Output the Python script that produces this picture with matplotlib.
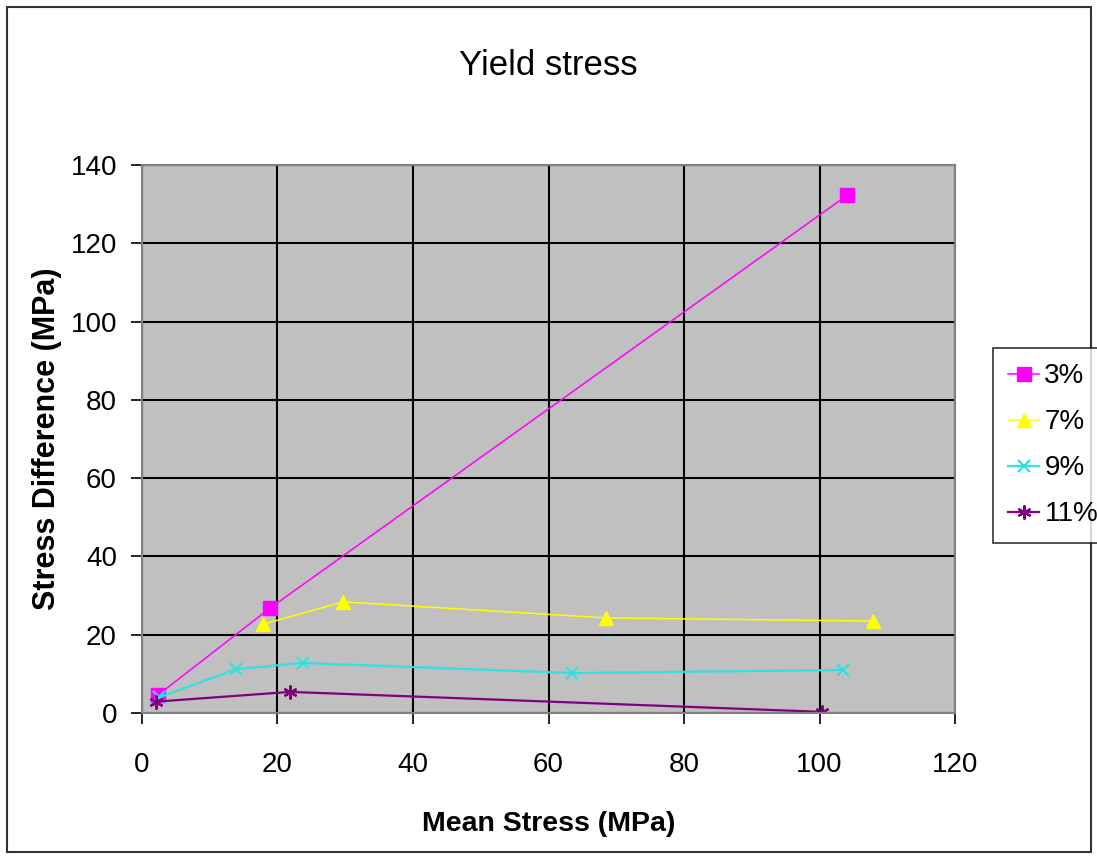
import matplotlib
matplotlib.use("Agg")
import matplotlib.pyplot as plt
from matplotlib.patches import Rectangle

plt.rcParams["font.family"] = ["Liberation Sans", "DejaVu Sans"]

# yield points: mean stress vs stress difference, one series per strain level
labels = ["3%", "7%", "9%", "11%"]

x_3 = [2.3, 18.9, 104.1]
y_3 = [4.5, 26.8, 132.3]

x_7 = [17.9, 29.7, 68.5, 107.9]
y_7 = [22.7, 28.4, 24.3, 23.5]

x_9 = [2.5, 13.9, 23.8, 63.5, 103.5]
y_9 = [4.0, 11.2, 12.8, 10.2, 11.0]

x_11 = [2.0, 21.9, 100.3]
y_11 = [2.9, 5.4, 0.3]

xticks = [0, 20, 40, 60, 80, 100, 120]
yticks = [0, 20, 40, 60, 80, 100, 120, 140]

fig = plt.figure(figsize=(10.97, 8.6), dpi=100)
ax = fig.add_axes([0.1294, 0.1709, 0.7412, 0.6372])
ax.set_facecolor("#C0C0C0")

ax.plot(x_3, y_3, color="#FF00FF", lw=1.1, marker="s", ms=9.5, label=labels[0])
ax.plot(x_7, y_7, color="#FFFF00", lw=1.1, marker="^", ms=10.5, label=labels[1])
ax.plot(x_9, y_9, color="#33E0E0", lw=1.6, marker="x", ms=8, mew=1.6, label=labels[2])
ax.plot(x_11, y_11, color="#800080", lw=1.6, marker=(6, 2, 0), ms=10, mew=1.6, label=labels[3])

ax.set_xlim(0, 120)
ax.set_ylim(0, 140)
ax.set_xticks(xticks)
ax.set_yticks(yticks)
ax.grid(True, color="black", lw=1.5)
ax.set_axisbelow(True)
ax.tick_params(direction="out", length=8, width=1.2, labelsize=20)
ax.tick_params(axis="x", pad=20)
ax.tick_params(axis="y", pad=10)
for s in ax.spines.values():
    s.set_color("#808080")
    s.set_linewidth(1.5)

ax.set_title("Yield stress", fontsize=25, y=1 + 90 / 548, pad=0)
ax.set_xlabel("Mean Stress (MPa)", fontsize=20.5, fontweight="bold")
ax.xaxis.set_label_coords(0.5, -0.178)
ax.set_ylabel("Stress Difference (MPa)", fontsize=22, fontweight="bold")
ax.yaxis.set_label_coords(-0.098, 0.5)

leg = fig.legend(loc="upper left", bbox_to_anchor=(993 / 1097, 1 - 348 / 860),
                 fontsize=20, frameon=True, fancybox=False, borderpad=0.55,
                 handlelength=1.1, handletextpad=0.2, labelspacing=0.72,
                 borderaxespad=0)
leg.get_frame().set_edgecolor("black")
leg.get_frame().set_linewidth(1.2)

# chart area border
fig.patches.append(Rectangle((7 / 1097, 8 / 860), 1 - 13 / 1097, 1 - 15 / 860,
                             transform=fig.transFigure, fill=False,
                             edgecolor="#333333", lw=1.5))

fig.savefig("out.png", dpi=100)
